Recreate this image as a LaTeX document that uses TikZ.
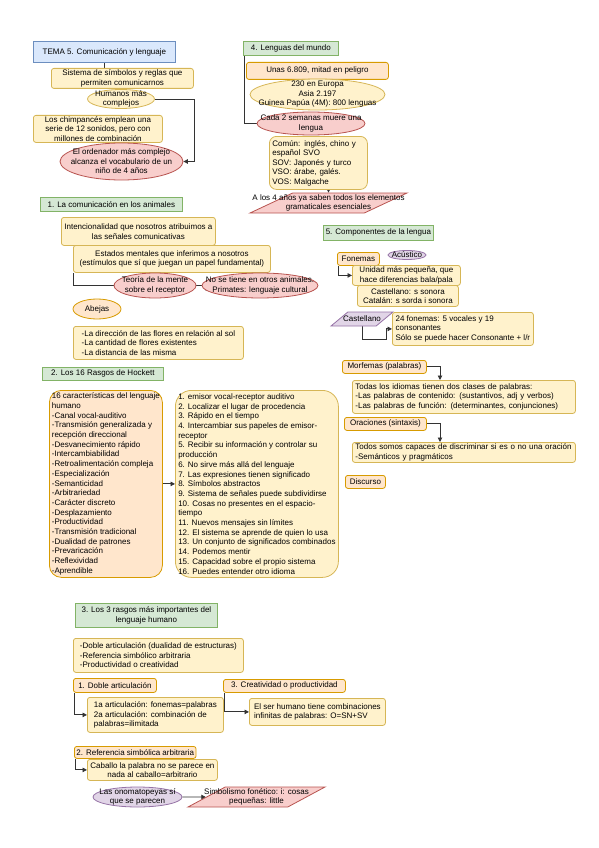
\documentclass[tikz,border=0pt]{standalone}
\usepackage{fontspec}
\setmainfont{Liberation Sans}
\usetikzlibrary{shapes.geometric,arrows.meta}

\definecolor{yelF}{HTML}{FFF2CC}\definecolor{yelD}{HTML}{D6B656}
\definecolor{oraF}{HTML}{FFE6CC}\definecolor{oraD}{HTML}{D79B00}
\definecolor{redF}{HTML}{F8CECC}\definecolor{redD}{HTML}{B85450}
\definecolor{grnF}{HTML}{D5E8D4}\definecolor{grnD}{HTML}{82B366}
\definecolor{bluF}{HTML}{DAE8FC}\definecolor{bluD}{HTML}{6C8EBF}
\definecolor{purF}{HTML}{E1D5E7}\definecolor{purD}{HTML}{9673A6}
\definecolor{lineC}{HTML}{333333}

\pgfdeclarelayer{bg}
\pgfsetlayers{bg,main}

\tikzset{
    every node/.style={font=\fontsize{8}{9.5}\selectfont, inner xsep=2pt, inner ysep=1pt},
    wh/.style 2 args={minimum width=#1, minimum height=#2},
    bx/.style={rectangle, anchor=north west, align=left, rounded corners=2.5pt, line width=0.8pt},
    yel/.style={bx, draw=yelD, fill=yelF},
    ora/.style={bx, draw=oraD, fill=oraF},
    grn/.style={bx, draw=grnD, fill=grnF, rounded corners=0pt, align=center},
    blu/.style={bx, draw=bluD, fill=bluF, rounded corners=0pt, align=center},
    ell/.style={ellipse, inner sep=0pt, line width=0.8pt},
    par/.style={trapezium, trapezium left angle=60, trapezium right angle=120,
        trapezium stretches=true, inner sep=0pt, line width=0.8pt},
    tx/.style={align=center, inner sep=0pt},
    ln/.style={draw=lineC, line width=0.9pt},
    arr/.style={ln, -{Triangle[length=4.5pt, width=4.5pt]}},
    big/.style={font=\fontsize{8}{9.7}\selectfont}
}

\begin{document}
\begin{tikzpicture}[x=1pt, y=-1pt]

    \useasboundingbox (0,0) rectangle (599,848);

    \node[blu, wh={142pt}{21pt}] (tema) at (33,41) {TEMA 5. Comunicación y lenguaje};
    \node[yel, wh={142pt}{20pt}, align=center] (sist) at (51,68) {Sistema de símbolos y reglas que\\permiten comunicarnos};
    \node[ell, draw=yelD, fill=yelF, wh={67pt}{19pt}] (hum) at (121,99) {};
    \node[tx] (humT) at (hum) {Humanos más\\complejos};
    \node[yel, wh={129pt}{27pt}, align=center] (chimp) at (33,115) {Los chimpancés emplean una\\serie de 12 sonidos, pero con\\millones de combinación};
    \node[ell, draw=redD, fill=redF, wh={123pt}{37pt}] (ord) at (121.5,161.5) {};
    \node[tx] (ordT) at (ord) {El ordenador más complejo\\alcanza el vocabulario de un\\niño de 4 años};

    \node[grn, wh={95pt}{14pt}] (leng) at (243,41) {4. Lenguas del mundo};
    \node[ora, wh={142pt}{17pt}, align=center] (unas) at (246,62) {Unas 6.809, mitad en peligro};
    \node[ell, draw=yelD, fill=yelF, wh={135pt}{31pt}] (euro) at (317.5,94.5) {};
    \node[tx] (euroT) at (euro) {230 en Europa\\Asia 2.197\\Guinea Papúa (4M): 800 lenguas};
    \node[ell, draw=redD, fill=redF, wh={108pt}{23pt}] (cada) at (311,123.5) {};
    \node[tx] (cadaT) at (cada) {Cada 2 semanas muere una\\lengua};
    \node[yel, wh={98pt}{53pt}, rounded corners=7pt, text width=92pt] (comun) at (269,136) {Común: inglés, chino y\\español SVO\\SOV: Japonés y turco\\VSO: árabe, galés.\\VOS: Malgache};
    \node[par, draw=redD, fill=redF, wh={157pt}{20pt}] (a4) at (328.5,203) {\phantom{X}};
    \node[tx] (a4T) at (a4) {A los 4 años ya saben todos los elementos\\gramaticales esenciales};

    \node[grn, wh={142pt}{14pt}] (anim) at (40,197) {1. La comunicación en los animales};
    \node[yel, wh={154pt}{28pt}, align=center] (inten) at (61,217) {Intencionalidad que nosotros atribuimos a\\las señales comunicativas};
    \node[yel, wh={197pt}{27pt}, align=center] (estad) at (73,245) {Estados mentales que inferimos a nosotros\\(estímulos que sí que juegan un papel fundamental)};
    \node[ell, draw=redD, fill=redF, wh={82pt}{25pt}] (teo) at (155,285.5) {};
    \node[tx] (teoT) at (teo) {Teoría de la mente\\sobre el receptor};
    \node[ell, draw=redD, fill=redF, wh={116pt}{25pt}] (nose) at (260,285.5) {};
    \node[tx] (noseT) at (nose) {No se tiene en otros animales.\\Primates: lenguaje cultural};
    \coordinate (noseIn) at (206,291);
    \node[ell, draw=oraD, fill=oraF, wh={48pt}{20pt}] (abe) at (97,309) {};
    \node[tx] (abeT) at (abe) {Abejas};
    \node[yel, wh={170pt}{33pt}] (flor) at (73,326) {-La dirección de las flores en relación al sol\\-La cantidad de flores existentes\\-La distancia de las misma};

    \node[grn, wh={110pt}{15pt}] (comp) at (323,225) {5. Componentes de la lengua};
    \node[ora, wh={42pt}{13pt}, align=center] (fon) at (337,252) {Fonemas};
    \node[ell, draw=purD, fill=purF, wh={38pt}{9pt}] (acu) at (407,255) {};
    \node[tx] (acuT) at (acu) {Acústico};
    \node[yel, wh={108pt}{20pt}, align=center] (uni) at (352,265) {Unidad más pequeña, que\\hace diferencias bala/pala};
    \node[yel, wh={101pt}{21pt}, align=center] (cas1) at (357,285) {Castellano: s sonora\\Catalán: s sorda i sonora};
    \node[par, draw=purD, fill=purF, wh={62pt}{14pt}] (castp) at (362,319) {\phantom{X}};
    \node[tx] (castpT) at (castp) {Castellano};
    \node[yel, wh={141pt}{33pt}] (f24) at (392,312) {24 fonemas: 5 vocales y 19\\consonantes\\Sólo se puede hacer Consonante + l/r};
    \node[ora, wh={84pt}{13pt}, align=center] (morf) at (342,360) {Morfemas (palabras)};
    \node[yel, wh={223pt}{33pt}, text width=217pt] (todas) at (352,380) {Todas los idiomas tienen dos clases de palabras:\\-Las palabras de contenido: (sustantivos, adj y verbos)\\-Las palabras de función: (determinantes, conjunciones)};
    \node[ora, wh={82pt}{13pt}, align=center] (orac) at (344,417) {Oraciones (sintaxis)};
    \node[yel, wh={223pt}{20pt}, text width=217pt] (todos) at (352,442) {Todos somos capaces de discriminar si es o no una oración\\-Semánticos y pragmáticos};
    \node[ora, wh={40pt}{13pt}, align=center] (disc) at (345,475) {Discurso};

    \node[grn, wh={121pt}{13pt}] (hock) at (42,367) {2. Los 16 Rasgos de Hockett};
    \node[ora, big, wh={113pt}{187pt}, rounded corners=12pt] (hl) at (49,390) {16 características del lenguaje\\humano\\-Canal vocal-auditivo\\-Transmisión generalizada y\\recepción direccional\\-Desvanecimiento rápido\\-Intercambiabilidad\\-Retroalimentación compleja\\-Especialización\\-Semanticidad\\-Arbitrariedad\\-Carácter discreto\\-Desplazamiento\\-Productividad\\-Transmisión tradicional\\-Dualidad de patrones\\-Prevaricación\\-Reflexividad\\-Aprendible};
    \node[yel, big, wh={163pt}{187pt}, rounded corners=16pt] (hr) at (175,390) {1. emisor vocal-receptor auditivo\\2. Localizar el lugar de procedencia\\3. Rápido en el tiempo\\4. Intercambiar sus papeles de emisor-\\receptor\\5. Recibir su información y controlar su\\producción\\6. No sirve más allá del lenguaje\\7. Las expresiones tienen significado\\8. Símbolos abstractos\\9. Sistema de señales puede subdividirse\\10. Cosas no presentes en el espacio-\\tiempo\\11. Nuevos mensajes sin límites\\12. El sistema se aprende de quien lo usa\\13. Un conjunto de significados combinados\\14. Podemos mentir\\15. Capacidad sobre el propio sistema\\16. Puedes entender otro idioma};

    \node[grn, wh={142pt}{24pt}] (tres) at (75,603) {3. Los 3 rasgos más importantes del\\lenguaje humano};
    \node[yel, wh={170pt}{34pt}] (trb) at (73,638) {-Doble articulación (dualidad de estructuras)\\-Referencia simbólico arbitraria\\-Productividad o creatividad};
    \node[ora, wh={83pt}{14pt}] (doble) at (73,678) {1. Doble articulación};
    \node[yel, wh={136pt}{35pt}] (art) at (87,697) {1a articulación: fonemas=palabras\\2a articulación: combinación de\\palabras=ilimitada};
    \node[ora, wh={122pt}{13pt}] (crea) at (223,679) {3. Creatividad o productividad};
    \node[yel, wh={136pt}{27pt}] (ser) at (249,698) {El ser humano tiene combinaciones\\infinitas de palabras: O=SN+SV};
    \node[ora, wh={121pt}{12pt}] (ref) at (74,746) {2. Referencia simbólica arbitraria};
    \node[yel, wh={130pt}{21pt}, align=center] (cab) at (87,759) {Caballo la palabra no se parece en\\nada al caballo=arbitrario};
    \node[ell, draw=purD, fill=purF, wh={89pt}{20pt}] (ono) at (137.5,797) {};
    \node[tx] (onoT) at (ono) {Las onomatopeyas sí\\que se parecen};
    \node[par, draw=redD, fill=redF, wh={137pt}{20pt}] (sim) at (256.5,797) {\phantom{X}};
    \node[tx] (simT) at (sim) {Simbolismo fonético: i: cosas\\pequeñas: little};

    \begin{pgfonlayer}{bg}
        \draw[ln] (tema.south) -- (tema.south |- sist.north);
        \draw[arr] (hum.east) -- ++(40,0) |- (ord.east);
        \draw[ln] ([xshift=1pt]leng.south west) |- (cada.west);
        \draw[arr] (comun.south -| a4.north) -- (a4.north);
        \draw[arr] (estad.south west) -- ++(0,13) -| (noseIn);
        \draw[arr] ([xshift=1pt]fon.south west) |- (uni.west);
        \draw[arr] (castp.south) -- ++(0,13) -- ++(24,0) |- (f24.west);
        \draw[arr] (morf.east) -| ([xshift=88pt]todas.north west);
        \draw[arr] (orac.east) -| ([xshift=88pt]todos.north west);
        \draw[arr] (hl.east) -- (hr.west);
        \draw[arr] ([xshift=1pt]doble.south west) |- (art.west);
        \draw[arr] ([xshift=1pt]crea.south west) |- (ser.west);
        \draw[arr] ([xshift=1pt]ref.south west) |- (cab.west);
        \draw[arr] (ono.east) -- (sim.west);
    \end{pgfonlayer}

\end{tikzpicture}
\end{document}
